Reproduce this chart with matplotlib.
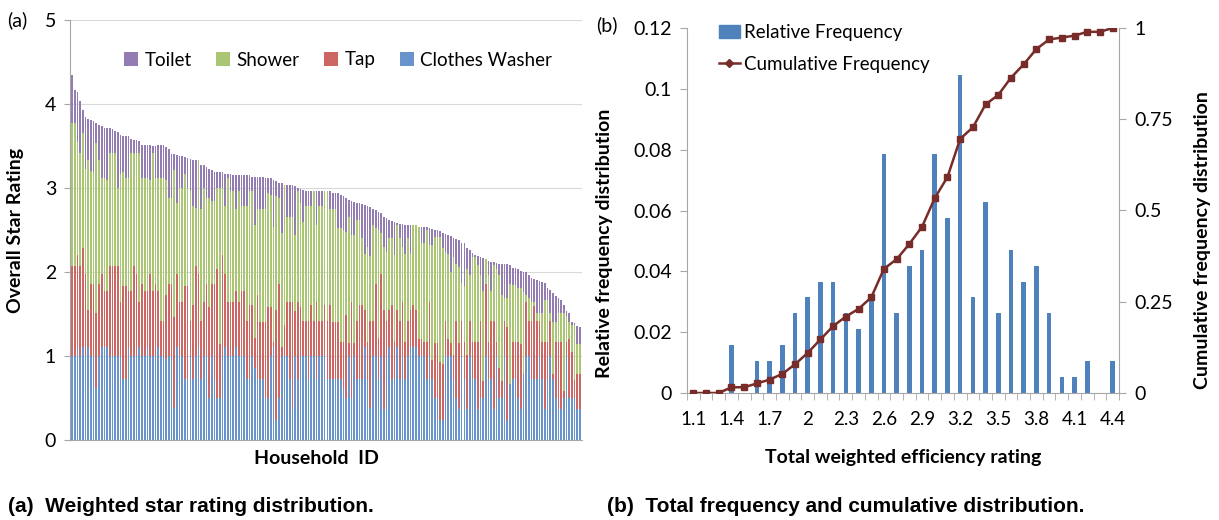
import numpy as np
import matplotlib
matplotlib.use("Agg")
import matplotlib.pyplot as plt
from matplotlib.patches import Patch
from matplotlib.lines import Line2D

plt.rcParams['font.family'] = ['Lato', 'DejaVu Sans']

# ---- (a) stacked levels for each household
# washer height, top of tap, top of shower, top of toilet (= total rating)
washer = [
    1.00, 1.00, 1.11, 1.00, 1.11, 1.00, 1.11, 1.00, 1.00, 0.62, 1.00, 1.11, 1.11, 1.11, 1.00, 1.00,
    1.00, 1.00, 1.00, 0.73, 0.73, 1.11, 1.00, 1.00, 1.00, 1.11, 1.00, 1.00, 1.11, 1.00, 1.00, 1.00,
    1.11, 1.00, 1.00, 0.97, 1.00, 1.00, 0.38, 1.11, 1.00, 1.00, 0.73, 0.73, 1.00, 0.73, 1.00, 1.11,
    0.73, 1.00, 1.00, 0.50, 1.00, 0.73, 0.50, 0.50, 1.00, 1.11, 1.00, 1.00, 1.00, 1.11, 1.00, 1.00,
    1.00, 0.73, 0.73, 1.00, 0.86, 0.73, 0.73, 0.73, 0.50, 0.50, 1.00, 1.11, 0.24, 0.50, 1.00, 1.00,
    1.00, 0.73, 0.37, 1.00, 0.73, 1.00, 1.00, 1.00, 0.73, 1.00, 1.00, 0.73, 1.00, 1.00, 1.00, 0.73,
    0.73, 0.73, 0.73, 0.73, 0.73, 0.62, 0.50, 1.00, 0.50, 1.00, 0.73, 0.73, 0.73, 1.11, 0.73, 0.38,
    1.00, 1.00, 0.73, 1.00, 0.37, 1.00, 1.11, 0.73, 0.73, 1.11, 0.73, 1.00, 0.73, 1.00, 1.11, 1.11,
    1.11, 1.00, 1.00, 1.00, 0.73, 1.00, 0.73, 0.50, 0.50, 0.24, 0.24, 1.00, 1.00, 1.00, 0.73, 0.50,
    0.37, 1.00, 0.73, 0.37, 1.00, 0.73, 0.73, 0.37, 0.50, 0.50, 1.00, 0.73, 0.73, 0.37, 1.00, 0.50,
    0.50, 1.00, 0.24, 0.73, 0.73, 0.73, 0.50, 0.37, 1.00, 1.00, 1.00, 0.73, 0.73, 0.73, 1.00, 0.73,
    0.37, 0.73, 1.00, 0.73, 0.50, 0.37, 0.37, 0.50, 1.00, 0.50, 0.50, 0.50, 0.37, 0.37,
]
upto_tap = [
    2.07, 2.07, 2.20, 2.07, 2.29, 1.98, 1.55, 1.86, 1.86, 1.51, 1.86, 1.98, 1.77, 1.77, 2.07, 2.07,
    2.07, 2.07, 1.64, 1.83, 1.83, 1.77, 1.77, 2.07, 1.98, 1.64, 1.86, 1.77, 1.77, 1.98, 1.77, 1.86,
    1.77, 1.42, 1.42, 1.73, 1.86, 1.86, 1.46, 1.98, 1.64, 1.64, 1.83, 1.83, 1.42, 1.61, 2.07, 1.98,
    1.42, 1.64, 1.86, 1.58, 1.86, 1.86, 2.04, 1.14, 2.20, 1.98, 1.64, 1.64, 1.64, 1.77, 1.64, 1.77,
    1.77, 1.42, 1.61, 1.61, 1.21, 1.73, 1.40, 1.40, 1.40, 1.58, 1.58, 1.17, 1.55, 1.86, 1.11, 1.37,
    1.64, 1.64, 1.64, 1.53, 1.64, 1.58, 1.42, 1.42, 1.42, 1.61, 1.42, 1.64, 1.42, 1.42, 1.61, 1.42,
    1.61, 1.40, 1.40, 1.40, 1.17, 1.17, 1.49, 1.15, 1.64, 1.15, 1.42, 1.61, 1.61, 1.55, 1.17, 1.42,
    1.42, 1.86, 1.21, 1.98, 1.55, 1.42, 1.55, 1.61, 1.17, 1.55, 1.42, 1.64, 1.17, 1.42, 1.55, 1.61,
    1.55, 1.20, 1.20, 1.17, 1.17, 1.64, 0.95, 1.15, 1.15, 0.93, 0.90, 1.42, 1.20, 1.15, 1.01, 1.42,
    1.15, 1.42, 1.17, 1.01, 1.42, 1.17, 1.17, 1.17, 1.42, 0.70, 1.86, 1.17, 1.42, 1.42, 1.17, 0.86,
    0.70, 1.42, 1.35, 0.67, 1.17, 1.17, 1.17, 1.14, 0.79, 1.64, 1.42, 1.42, 1.59, 1.42, 1.42, 1.17,
    1.17, 1.17, 1.42, 0.79, 1.17, 1.17, 1.17, 0.58, 1.17, 1.20, 1.05, 0.71, 0.79, 0.79,
]
upto_shower = [
    3.77, 3.77, 3.55, 3.42, 3.65, 3.23, 3.33, 3.20, 3.19, 3.54, 3.33, 3.12, 3.12, 3.10, 3.42, 3.42,
    3.42, 3.00, 3.17, 3.19, 3.12, 3.12, 3.42, 3.42, 3.42, 3.42, 3.12, 3.12, 3.12, 3.10, 3.42, 3.12,
    3.12, 3.12, 3.12, 3.10, 2.88, 2.88, 3.21, 2.82, 3.00, 3.00, 3.17, 3.00, 2.96, 2.78, 2.76, 3.33,
    2.75, 3.00, 2.88, 2.88, 2.84, 2.84, 3.00, 3.00, 3.00, 2.78, 3.12, 2.96, 2.96, 2.75, 2.96, 2.78,
    2.78, 2.78, 2.96, 2.96, 2.56, 2.75, 2.75, 2.75, 2.75, 2.94, 2.92, 2.53, 2.90, 2.88, 2.47, 3.04,
    2.66, 2.66, 2.66, 2.44, 2.96, 2.82, 2.60, 2.78, 2.78, 2.78, 2.96, 2.56, 2.78, 2.78, 2.96, 2.96,
    2.75, 2.75, 2.75, 2.52, 2.52, 2.50, 2.48, 2.66, 2.44, 2.44, 2.62, 2.62, 2.41, 2.22, 2.30, 2.19,
    2.56, 2.52, 2.50, 2.46, 2.30, 2.24, 2.40, 2.40, 2.20, 2.56, 2.40, 2.30, 2.22, 2.40, 2.22, 2.56,
    2.56, 2.54, 2.34, 2.34, 2.50, 2.32, 2.32, 2.42, 2.42, 2.42, 2.28, 2.24, 2.22, 2.00, 2.18, 2.10,
    2.06, 1.87, 1.83, 2.04, 1.96, 2.18, 2.18, 2.08, 1.96, 1.77, 2.15, 1.96, 1.77, 2.08, 2.04, 1.96,
    1.73, 1.69, 1.69, 1.86, 1.85, 1.85, 1.81, 1.81, 1.76, 1.73, 1.69, 1.64, 1.64, 1.51, 1.51, 1.51,
    1.67, 1.67, 1.51, 1.41, 1.41, 1.51, 1.51, 1.51, 1.48, 1.41, 1.37, 1.37, 1.14, 1.14,
]
total = [
    4.35, 4.17, 4.14, 4.04, 3.93, 3.84, 3.82, 3.81, 3.80, 3.77, 3.75, 3.74, 3.72, 3.71, 3.71, 3.70,
    3.68, 3.67, 3.63, 3.62, 3.62, 3.62, 3.58, 3.57, 3.57, 3.56, 3.51, 3.51, 3.51, 3.51, 3.50, 3.50,
    3.51, 3.51, 3.51, 3.49, 3.46, 3.41, 3.40, 3.39, 3.38, 3.38, 3.37, 3.36, 3.35, 3.33, 3.33, 3.33,
    3.27, 3.27, 3.25, 3.23, 3.21, 3.19, 3.19, 3.19, 3.19, 3.17, 3.17, 3.17, 3.16, 3.15, 3.15, 3.15,
    3.16, 3.16, 3.15, 3.13, 3.13, 3.13, 3.13, 3.13, 3.12, 3.12, 3.12, 3.10, 3.08, 3.06, 3.06, 3.04,
    3.04, 3.04, 3.03, 3.02, 3.00, 2.99, 2.98, 2.96, 2.96, 2.96, 2.96, 2.96, 2.96, 2.96, 2.96, 2.96,
    2.96, 2.94, 2.94, 2.94, 2.92, 2.91, 2.88, 2.86, 2.84, 2.83, 2.82, 2.82, 2.81, 2.80, 2.78, 2.77,
    2.75, 2.74, 2.72, 2.70, 2.66, 2.64, 2.62, 2.61, 2.60, 2.58, 2.57, 2.57, 2.56, 2.56, 2.56, 2.56,
    2.56, 2.54, 2.54, 2.54, 2.53, 2.52, 2.51, 2.50, 2.50, 2.49, 2.47, 2.45, 2.44, 2.43, 2.41, 2.39,
    2.38, 2.35, 2.34, 2.29, 2.26, 2.23, 2.20, 2.19, 2.18, 2.17, 2.15, 2.13, 2.12, 2.12, 2.11, 2.10,
    2.10, 2.10, 2.09, 2.08, 2.05, 2.05, 2.04, 2.01, 2.00, 2.00, 1.96, 1.93, 1.92, 1.90, 1.89, 1.88,
    1.87, 1.81, 1.79, 1.75, 1.71, 1.69, 1.67, 1.61, 1.54, 1.51, 1.41, 1.39, 1.36, 1.34,
]

# ---- (b) histogram of total weighted efficiency rating (household counts)
ratings = ["1.1", "1.2", "1.3", "1.4", "1.5", "1.6", "1.7", "1.8", "1.9", "2",
           "2.1", "2.2", "2.3", "2.4", "2.5", "2.6", "2.7", "2.8", "2.9", "3",
           "3.1", "3.2", "3.3", "3.4", "3.5", "3.6", "3.7", "3.8", "3.9", "4",
           "4.1", "4.2", "4.3", "4.4"]
counts = [0, 0, 0, 3, 0, 2, 2, 3, 5, 6,
          7, 7, 5, 4, 6, 15, 5, 8, 9, 15,
          11, 20, 6, 12, 5, 9, 7, 8, 5, 1,
          1, 2, 0, 2]
n_households = 191

# -------------------------- #

W, H = 1219, 520
fig = plt.figure(figsize=(W / 100, H / 100), dpi=100)

# lighter tones for the thin stacked bars (Excel gradient look), base tones for panel b
c_washer, c_tap, c_shower, c_toilet = '#6893cb', '#cc6663', '#aac674', '#937cb2'
c_blue = '#4F81BD'
axis_grey = '#a6a6a6'
lab = dict(fontsize=14, fontweight='bold')

washer = np.array(washer)
upto_tap = np.array(upto_tap)
upto_shower = np.array(upto_shower)
total = np.array(total)
tap = upto_tap - washer
shower = upto_shower - upto_tap
toilet = total - upto_shower

# ---- panel (a)
ax1 = fig.add_axes([70 / W, 80 / H, 512 / W, 420 / H])
x = np.arange(len(total))
bw = 0.62
ax1.bar(x, washer, bw, color=c_washer, label='Clothes Washer', zorder=2)
ax1.bar(x, tap, bw, bottom=washer, color=c_tap, label='Tap', zorder=2)
ax1.bar(x, shower, bw, bottom=upto_tap, color=c_shower, label='Shower', zorder=2)
ax1.bar(x, toilet, bw, bottom=upto_shower, color=c_toilet, label='Toilet', zorder=2)

ax1.set_xlim(-0.8, len(total) - 0.2)
ax1.set_ylim(0, 5)
ax1.set_yticks(range(6))
ax1.set_xticks([])
ax1.grid(axis='y', color='#d9d9d9', lw=0.8, zorder=0)
for s in ['top', 'right']:
    ax1.spines[s].set_visible(False)
ax1.spines['left'].set_color(axis_grey)
ax1.spines['bottom'].set_color(axis_grey)
ax1.tick_params(axis='y', length=4, color=axis_grey, labelsize=14, pad=6)
ax1.set_ylabel('Overall Star Rating', **lab)
ax1.yaxis.set_label_coords(-46 / 512, 0.5)
ax1.set_xlabel('Household  ID', **lab)
ax1.xaxis.set_label_coords(0.482, -10 / 420)

h, l = ax1.get_legend_handles_labels()
order = [3, 2, 1, 0]
fig.legend([h[i] for i in order], [l[i] for i in order], loc='center left',
           bbox_to_anchor=(107 / W, 1 - 60 / H), ncol=4, frameon=False,
           fontsize=13.5, handlelength=0.75, handleheight=0.75, handletextpad=0.35,
           columnspacing=1.3)

fig.text(7 / W, 1 - 20 / H, '(a)', fontsize=14, va='center')

# ---- panel (b)
rel = np.array(counts) / n_households
cum = np.cumsum(counts) / n_households
xs = np.arange(len(ratings))

ax2 = fig.add_axes([687 / W, 127 / H, 432 / W, 365 / H])
ax2.bar(xs, rel, 0.36, color=c_blue, zorder=2)
ax2.set_xlim(-0.5, len(ratings) - 0.5)
ax2.set_ylim(0, 0.12)
yt = [0, 0.02, 0.04, 0.06, 0.08, 0.1, 0.12]
ax2.set_yticks(yt)
ax2.set_yticklabels(['0', '0.02', '0.04', '0.06', '0.08', '0.1', '0.12'])
ax2.set_xticks(xs[::3])
ax2.set_xticklabels(ratings[::3])
ax2.set_xticks(np.arange(len(ratings) + 1) - 0.5, minor=True)
ax2.tick_params(axis='x', which='major', length=0, labelsize=13.5, pad=13)
ax2.tick_params(axis='x', which='minor', length=5, color=axis_grey)
ax2.tick_params(axis='y', length=5, color=axis_grey, labelsize=14, pad=6)
for s in ['top', 'right']:
    ax2.spines[s].set_visible(False)
ax2.spines['left'].set_color(axis_grey)
ax2.spines['bottom'].set_color(axis_grey)
ax2.set_ylabel('Relative frequency distribution', **lab)
ax2.yaxis.set_label_coords(-74 / 432, 0.41)
ax2.set_xlabel('Total weighted efficiency rating', **lab)
ax2.xaxis.set_label_coords(0.5, -56 / 365)

line_col = '#772C2A'
ax3 = ax2.twinx()
ax3.plot(xs, cum, color=line_col, lw=1.8, marker='s', ms=5, zorder=3)
ax3.set_ylim(0, 1)
ax3.set_yticks([0, 0.25, 0.5, 0.75, 1])
ax3.set_yticklabels(['0', '0.25', '0.5', '0.75', '1'])
ax3.tick_params(axis='y', length=5, color=axis_grey, labelsize=14, pad=6)
for s in ['top', 'left', 'bottom']:
    ax3.spines[s].set_visible(False)
ax3.spines['right'].set_color(axis_grey)
ax3.set_ylabel('Cumulative frequency distribution', **lab)
ax3.yaxis.set_label_coords(1 + 75 / 432, 0.42)

leg_h = [Patch(color=c_blue),
         Line2D([0], [0], color=line_col, lw=1.8, marker='D', ms=4)]
fig.legend(leg_h, ['Relative Frequency', 'Cumulative Frequency'], loc='upper left',
           bbox_to_anchor=(702 / W, 1 - 7 / H), frameon=False, fontsize=13.5,
           handlelength=1.1, handletextpad=0.25, labelspacing=0.8)

fig.text(596 / W, 1 - 25 / H, '(b)', fontsize=14, va='center')

# ---- captions
cap = dict(fontsize=15, fontweight='bold', family=['Liberation Sans', 'DejaVu Sans'], va='center')
fig.text(8 / W, 1 - 507 / H, '(a)  Weighted star rating distribution.', **cap)
fig.text(607 / W, 1 - 507 / H, '(b)  Total frequency and cumulative distribution.', **cap)

fig.savefig('out.png', dpi=100)
